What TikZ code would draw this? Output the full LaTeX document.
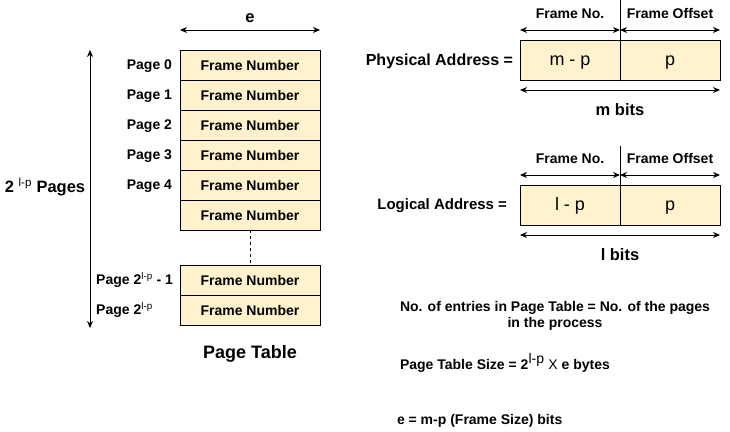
\documentclass[tikz,border=0pt]{standalone}
\usepackage{fontspec}
\setmainfont{Liberation Sans}
\usetikzlibrary{positioning, arrows.meta}
\definecolor{cellfill}{HTML}{FFF2CC}

\begin{document}
\begin{tikzpicture}[x=1pt, y=-1pt, >={Stealth[length=7pt, width=6pt]}, line width=0.9pt,
  every node/.style={font=\bfseries\fontsize{14}{16}\selectfont},
  row/.style={draw, fill=cellfill, minimum width=140pt, minimum height=30pt, inner sep=0pt, outer sep=0pt},
  field/.style={draw, fill=cellfill, minimum width=100pt, minimum height=40pt, inner sep=0pt, outer sep=0pt,
    text height=10pt, text depth=0pt, font=\fontsize{18}{20}\selectfont},
  lbl/.style={inner sep=0pt, outer sep=0pt}]
\useasboundingbox (0,0) rectangle (730,431);

% Page table %
\node[row] (r0) at (250,65) {Frame Number};
\node[row, below=0pt of r0] (r1) {Frame Number};
\node[row, below=0pt of r1] (r2) {Frame Number};
\node[row, below=0pt of r2] (r3) {Frame Number};
\node[row, below=0pt of r3] (r4) {Frame Number};
\node[row, below=0pt of r4] (r5) {Frame Number};
\node[row] (r6) at (250,280) {Frame Number};
\node[row, below=0pt of r6] (r7) {Frame Number};
\node[lbl, below=20pt of r7, font=\bfseries\fontsize{18}{20}\selectfont] (ptab) {Page Table};

% Page labels %
\node[lbl, left=8pt of r0, yshift=-1.5pt] (p0) {Page 0};
\node[lbl, left=8pt of r1, yshift=-1.5pt] (p1) {Page 1};
\node[lbl, left=8pt of r2, yshift=-1.5pt] (p2) {Page 2};
\node[lbl, left=8pt of r3, yshift=-1.5pt] (p3) {Page 3};
\node[lbl, left=8pt of r4, yshift=-1.5pt] (p4) {Page 4};
\node[lbl, left=7pt of r6] (p6) {Page 2\textsuperscript{\mdseries l-p} - 1};
\node[lbl, anchor=west] (p7) at (p6.west |- r7) {Page 2\textsuperscript{\mdseries l-p}};

% Page count %
\coordinate (ctop) at (90,50);
\coordinate (cbot) at (90,328);
\node[lbl, font=\bfseries\fontsize{16.5}{18}\selectfont] (cnt) at (45,187) {2 \textsuperscript{\mdseries l-p} Pages};

% Physical address %
\node[field] (mp) at (570,60) {m - p};
\node[field, right=0pt of mp] (pp) {p};
\node[lbl, anchor=east, font=\bfseries\fontsize{16}{18}\selectfont] (phys) at ([xshift=-7pt, yshift=-1pt]mp.west) {Physical Address =};
\coordinate (ptop) at (620,0);

% Logical address %
\node[field] (lp) at (570,205) {l - p};
\node[field, right=0pt of lp] (lo) {p};
\node[lbl, anchor=east, font=\bfseries\fontsize{15}{18}\selectfont] (logi) at ([xshift=-13pt, yshift=-1pt]lp.west) {Logical Address =};
\coordinate (ltop) at (620,146);

% Notes %
\node[lbl, align=center] (n1) at (555,316) {No. of entries in Page Table = No. of the pages\\in the process};
\node[lbl, anchor=west] (n2) at (400,363) {Page Table Size = 2\textsuperscript{\mdseries\fontsize{14}{16}\selectfont l-p} {\mdseries X} e bytes};
\node[lbl, anchor=west] (n3) at (397,421) {e = m-p (Frame Size) bits};

% Edges %
\draw[<->] ([yshift=20pt]r0.north west) -- ([yshift=20pt]r0.north east)
  node[midway, above=4pt, font=\bfseries\fontsize{16.5}{18}\selectfont] {e};
\draw[dash pattern=on 3pt off 3pt] (r5.south) -- (r6.north);
\draw[<->] (ctop) -- (cbot);

\draw (ptop) -- (mp.north east);
\draw[<->] ([yshift=10pt]mp.north west) -- ([yshift=10pt]mp.north east)
  node[midway, above=8pt] {Frame No.};
\draw[<->] ([yshift=10pt]pp.north west) -- ([yshift=10pt]pp.north east)
  node[midway, above=8pt] {Frame Offset};
\draw[<->] ([yshift=-10pt]mp.south west) -- ([yshift=-10pt]pp.south east)
  node[midway, below=10pt, font=\bfseries\fontsize{16.5}{18}\selectfont] {m bits};

\draw (ltop) -- (lp.north east);
\draw[<->] ([yshift=10pt]lp.north west) -- ([yshift=10pt]lp.north east)
  node[midway, above=8pt] {Frame No.};
\draw[<->] ([yshift=10pt]lo.north west) -- ([yshift=10pt]lo.north east)
  node[midway, above=8pt] {Frame Offset};
\draw[<->] ([yshift=-10pt]lp.south west) -- ([yshift=-10pt]lo.south east)
  node[midway, below=10pt, font=\bfseries\fontsize{16.5}{18}\selectfont] {l bits};

\end{tikzpicture}
\end{document}
